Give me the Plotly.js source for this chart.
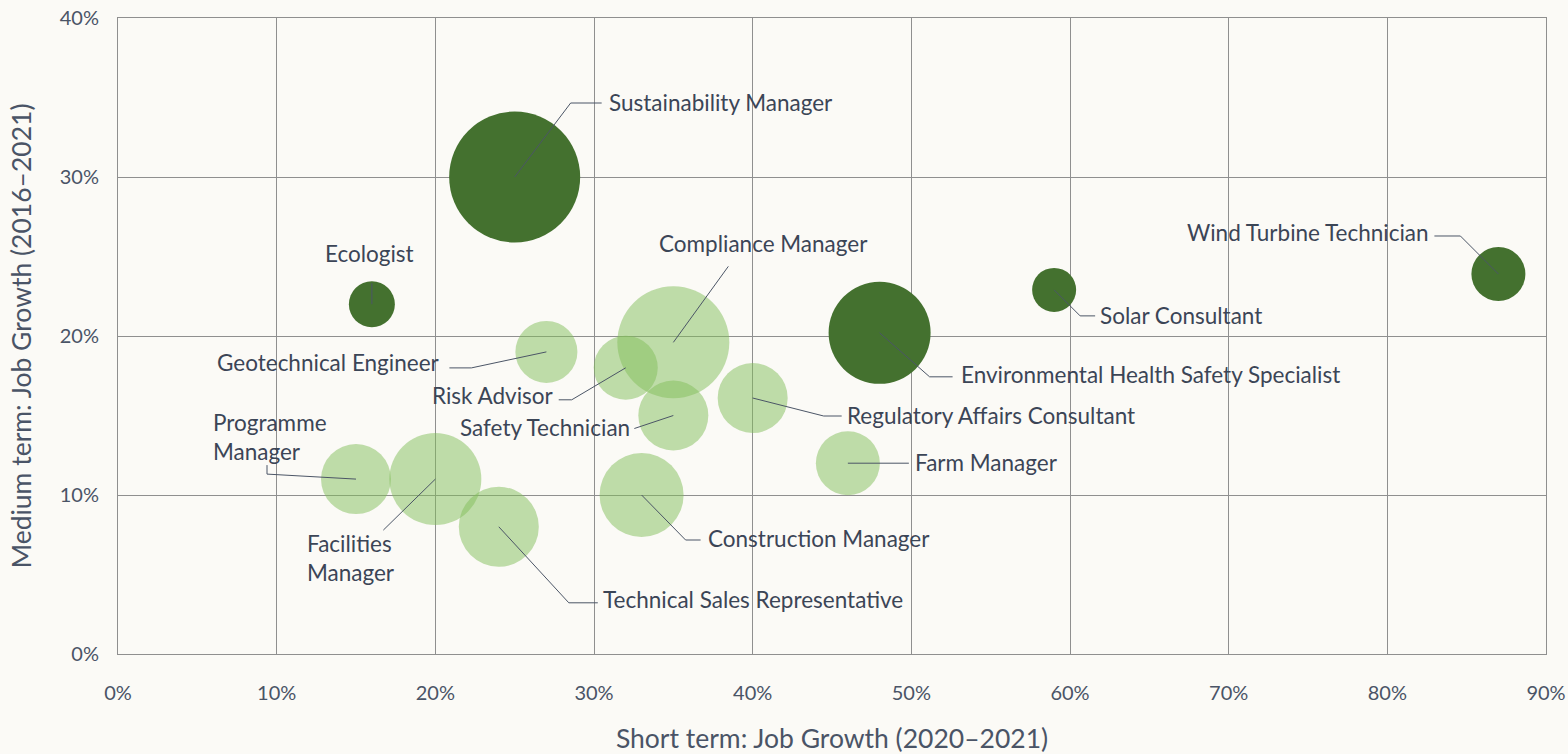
<!DOCTYPE html>
<html>
<head>
<meta charset="utf-8">
<script src="https://cdn.plot.ly/plotly-3.0.1.min.js"></script>
<style>html,body{margin:0;padding:0;background:#fbfaf6;}#chart{width:1568px;height:754px;}</style>
</head>
<body>
<div id="chart"></div>
<script>
// Data
const jobs = ["Sustainability Manager","Ecologist","Environmental Health Safety Specialist","Solar Consultant","Wind Turbine Technician",
  "Compliance Manager","Geotechnical Engineer","Risk Advisor","Safety Technician","Regulatory Affairs Consultant",
  "Farm Manager","Construction Manager","Programme Manager","Facilities Manager","Technical Sales Representative"];
const shortTermGrowth = [25, 16, 48, 59, 87, 35, 27, 32, 35, 40, 46, 33, 15, 20, 24];
const mediumTermGrowth = [30, 22, 20.2, 22.9, 23.9, 19.6, 19, 18, 15, 16.1, 12, 10, 11, 11, 8];
const bubbleSize = [131, 46, 102, 44, 54, 112, 62, 64, 70, 70, 64, 84, 70, 92, 80];
const isHighlighted = [true, true, true, true, true, false, false, false, false, false, false, false, false, false, false];
const xTickVals = [0, 10, 20, 30, 40, 50, 60, 70, 80, 90];
const yTickVals = [0, 10, 20, 30, 40];
const labelText = ["Sustainability Manager","Ecologist","Environmental Health Safety Specialist","Solar Consultant","Wind Turbine Technician",
  "Compliance Manager","Geotechnical Engineer","Risk Advisor","Safety Technician","Regulatory Affairs Consultant",
  "Farm Manager","Construction Manager","Programme<br>Manager","Facilities<br>Manager","Technical Sales Representative"];

// Label placement (pixels, relative to bubble centre; y up)
const labelPos = [
  {xa:'left', dx:92, dy:75, path:[[56,74],[87,74]]},
  {xa:'center', dx:-2, dy:51, path:[[0,21]]},
  {xa:'left', dx:79, dy:-42, path:[[50,-44],[73,-44]]},
  {xa:'left', dx:44, dy:-26, path:[[26,-26],[41,-26]]},
  {xa:'right', dx:-67, dy:41, path:[[-38,38],[-64,38]]},
  {xa:'center', dx:90, dy:99, path:[[55,76]]},
  {xa:'right', dx:-104, dy:-11, path:[[-75,-16],[-97,-16]]},
  {xa:'right', dx:-70, dy:-28, path:[[-54,-32],[-67,-32]]},
  {xa:'right', dx:-41, dy:-12, path:[[-39,-13]]},
  {xa:'left', dx:92, dy:-17, path:[[71,-18],[89,-18]]},
  {xa:'left', dx:65, dy:1, path:[[61,0]]},
  {xa:'left', dx:64, dy:-43, path:[[44,-45],[59,-45]]},
  {xa:'left', dx:-145, dy:42, path:[[-89,5],[-89,14]]},
  {xa:'left', dx:-130, dy:-79, path:[[-52,-51]]},
  {xa:'left', dx:102, dy:-73, path:[[70,-76],[99,-76]]}
];

const idxLight = [], idxDark = [];
isHighlighted.forEach((h,i)=> (h ? idxDark : idxLight).push(i));
const pick = (arr, idx) => idx.map(i => arr[i]);

const traceLight = {
  type:'scatter', mode:'markers',
  x: pick(shortTermGrowth, idxLight), y: pick(mediumTermGrowth, idxLight),
  text: pick(jobs, idxLight),
  marker:{size: pick(bubbleSize, idxLight), sizemode:'diameter', color:'rgb(129,190,90)', opacity:0.5, line:{width:0}},
  hoverinfo:'text'
};
const traceDark = {
  type:'scatter', mode:'markers',
  x: pick(shortTermGrowth, idxDark), y: pick(mediumTermGrowth, idxDark),
  text: pick(jobs, idxDark),
  marker:{size: pick(bubbleSize, idxDark), sizemode:'diameter', color:'#44712f', opacity:1, line:{width:0}},
  hoverinfo:'text'
};

const textColor = '#3b4556';
const FONT = 'Lato, sans-serif';
const annotations = jobs.map((j,i)=>({
  x: shortTermGrowth[i], y: mediumTermGrowth[i], xref:'x', yref:'y',
  text: labelText[i], showarrow:false,
  xanchor: labelPos[i].xa, yanchor:'middle', align:'left',
  xshift: labelPos[i].dx, yshift: labelPos[i].dy,
  font:{family:FONT, size:22.5, color:textColor}
}));

const shapes = jobs.map((j,i)=>({
  type:'path', xref:'x', yref:'y', xsizemode:'pixel', ysizemode:'pixel',
  xanchor: shortTermGrowth[i], yanchor: mediumTermGrowth[i],
  path: 'M 0,0 ' + labelPos[i].path.map(p=>'L '+p[0]+','+p[1]).join(' '),
  line:{color:'#4b5566', width:1}, layer:'above'
}));

const layout = {
  width:1568, height:754,
  margin:{l:118, r:22, t:18, b:100},
  paper_bgcolor:'#fbfaf6', plot_bgcolor:'#fbfaf6',
  showlegend:false,
  xaxis:{
    range:[0,90], tickvals:xTickVals, ticktext:xTickVals.map(v=>v+'%'),
    showgrid:true, gridcolor:'#8f8f8f', gridwidth:1, zeroline:false,
    showline:true, linecolor:'#8f8f8f', linewidth:1, mirror:true,
    ticks:'', ticklabelstandoff:21,
    tickfont:{family:FONT, size:20, color:'#4a5466'},
    title:{text:'Short term: Job Growth (2020–2021)', standoff:27, font:{family:FONT, size:26.5, color:'#4a5466'}},
    fixedrange:true
  },
  yaxis:{
    range:[0,40], tickvals:yTickVals, ticktext:yTickVals.map(v=>v+'%'),
    showgrid:true, gridcolor:'#8f8f8f', gridwidth:1, zeroline:false,
    showline:true, linecolor:'#8f8f8f', linewidth:1, mirror:true,
    ticks:'', ticklabelstandoff:14,
    tickfont:{family:FONT, size:20, color:'#4a5466'},
    title:{text:'Medium term: Job Growth (2016–2021)', standoff:20, font:{family:FONT, size:26.5, color:'#4a5466'}},
    fixedrange:true
  },
  annotations: annotations,
  shapes: shapes
};

Plotly.newPlot('chart', [traceLight, traceDark], layout, {displayModeBar:false, staticPlot:true});
</script>
</body>
</html>
